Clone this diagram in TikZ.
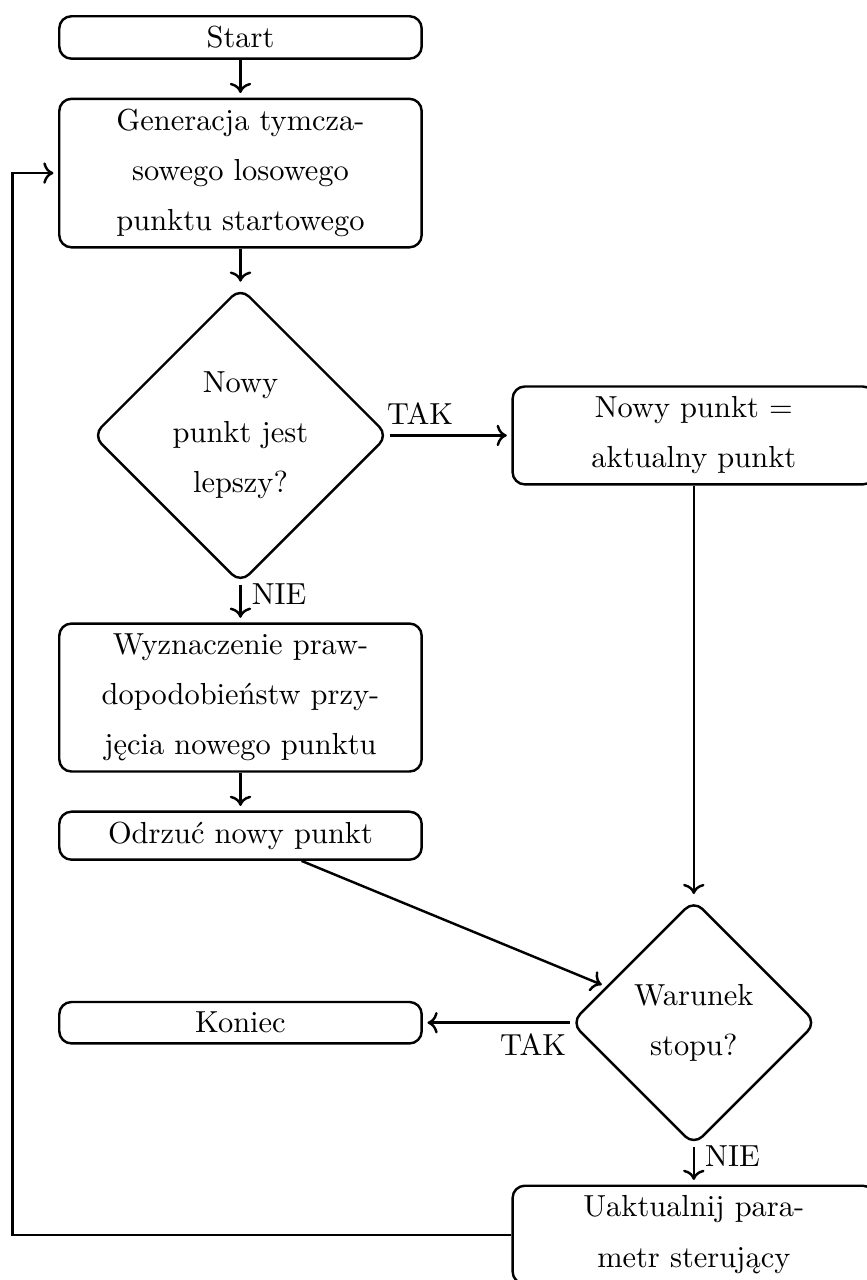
\documentclass[tikz,border=0pt]{standalone}
\usepackage{fontspec}
\usepackage{tikz}
\usetikzlibrary{arrows.meta,positioning,shapes.geometric}

\begin{document}
\begin{tikzpicture}[node distance=12.4pt, every node/.style={font=\fontsize{10}{16.5}\selectfont},
        box/.style={draw, thick, rounded corners, text width=3.95cm, align=center},
        decision/.style={draw, thick, rounded corners, diamond, aspect=1, text width=1.6cm, inner sep=2.45pt, align=center},
        flow/.style={->, thick, shorten >=1.5pt}]
        \useasboundingbox (-79pt,12.3pt) rectangle (205.5pt,-408.2pt);
        \node[box] (start) at (0,0) {Start};
        \node[box, below=of start] (losuj) {Generacja tymcza-\\sowego losowego\\punktu startowego};
        \node[decision, below=of losuj] (lepszy) {Nowy\\punkt jest\\lepszy?};
        \node[box, right=40pt of lepszy] (akceptuj) {Nowy punkt =\\aktualny punkt};
        \node[box, below=of lepszy] (prawd) {Wyznaczenie praw-\\dopodobieństw przy-\\jęcia nowego punktu};
        \node[box, below=of prawd] (odrzuc) {Odrzuć nowy punkt};
        \coordinate (pivot) at (odrzuc.south -| akceptuj.south);
        \node[decision, below=of pivot] (stop) {Warunek\\stopu?};
        \node[box] (koniec) at (stop -| odrzuc) {Koniec};
        \node[box, below=of stop] (zmiana) {Uaktualnij para-\\metr sterujący};
        \draw[flow] (start) -- (losuj);
        \draw[flow] (losuj) -- (lepszy);
        \draw[flow] (lepszy) -- node[near start, above] {TAK} (akceptuj);
        \draw[flow] (lepszy) -- node[near start, right] {NIE} (prawd);
        \draw[flow] (prawd) -- (odrzuc);
        \draw[flow] (akceptuj) -- (stop);
        \draw[flow] (odrzuc) -- (stop);
        \draw[flow] (stop) -- node[near start, below] {TAK} (koniec);
        \draw[flow] (stop) -- node[near start, right] {NIE} (zmiana);
        \draw[flow] (zmiana.west) -| ([xshift=-15pt]losuj.west) -- (losuj.west);
      \end{tikzpicture}
\end{document}
